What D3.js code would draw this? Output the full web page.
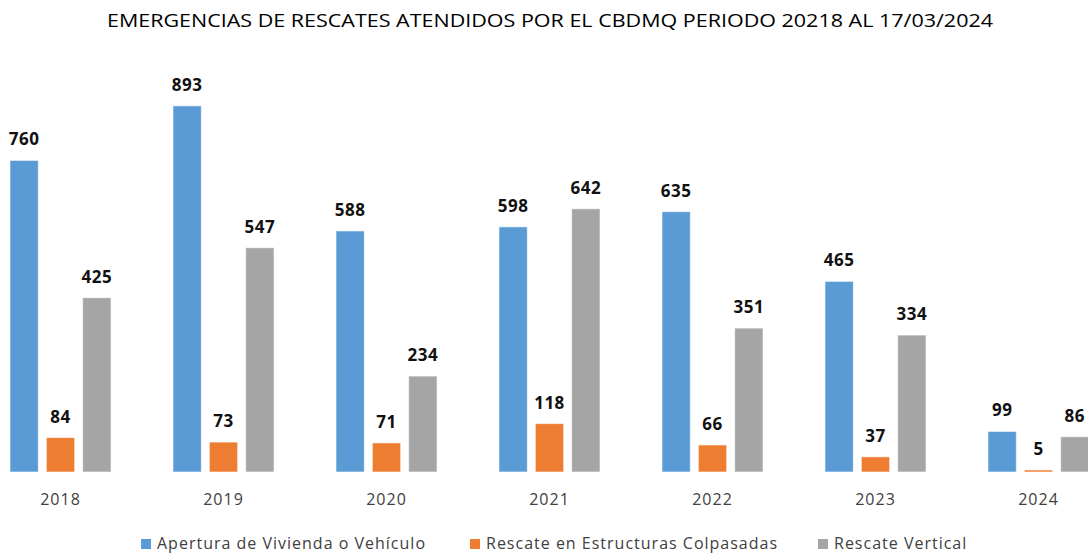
<!DOCTYPE html>
<html>
<head>
<meta charset="utf-8">
<script src="https://cdn.jsdelivr.net/npm/d3@7"></script>
<style>
  body { margin: 0; background: #fff; }
  svg { display: block; font-family: "Open Sans", sans-serif; }
</style>
</head>
<body>
<div id="chart"></div>
<script>
var years = ["2018", "2019", "2020", "2021", "2022", "2023", "2024"];
var series = ["Apertura de Vivienda o Vehículo", "Rescate en Estructuras Colpasadas", "Rescate Vertical"];
var apertura = [760, 893, 588, 598, 635, 465, 99];
var colapsadas = [84, 73, 71, 118, 66, 37, 5];
var vertical = [425, 547, 234, 642, 351, 334, 86];
var colors = ["#5b9bd5", "#ed7d31", "#a5a5a5"];

var width = 1088, height = 556;

var rows = years.map(function(y, i) {
  return {year: y, values: [apertura[i], colapsadas[i], vertical[i]]};
});

var svg = d3.select("#chart").append("svg")
    .attr("width", width)
    .attr("height", height);

// plot area runs past the left/right edges like the original screenshot
var x = d3.scaleBand()
    .domain(years)
    .range([-21, 1120])
    .paddingInner(0.38)
    .paddingOuter(0.19);

var x1 = d3.scaleBand()
    .domain([0, 1, 2])
    .range([0, x.bandwidth()])
    .paddingInner(0.22)
    .paddingOuter(0);

var y = d3.scaleLinear()
    .domain([0, 1000])
    .range([472, 62]);

svg.append("text")
    .attr("x", 550)
    .attr("y", 27)
    .attr("text-anchor", "middle")
    .attr("textLength", 886)
    .attr("lengthAdjust", "spacingAndGlyphs")
    .style("font-size", "19px")
    .style("fill", "#000")
    .text("EMERGENCIAS DE RESCATES ATENDIDOS POR EL CBDMQ PERIODO 20218 AL 17/03/2024");

var groups = svg.append("g").selectAll("g")
    .data(rows)
    .enter().append("g")
    .attr("transform", function(d) { return "translate(" + x(d.year) + ",0)"; });

groups.selectAll("rect")
    .data(function(d) { return d.values; })
    .enter().append("rect")
    .attr("x", function(d, i) { return x1(i); })
    .attr("y", function(d) { return y(d); })
    .attr("width", x1.bandwidth())
    .attr("height", function(d) { return y(0) - y(d); })
    .style("fill", function(d, i) { return colors[i]; })
    .style("stroke", "#ffffff")
    .style("stroke-opacity", 0.6)
    .style("stroke-width", 1);

groups.selectAll("text.val")
    .data(function(d) { return d.values; })
    .enter().append("text")
    .attr("class", "val")
    .attr("x", function(d, i) { return x1(i) + x1.bandwidth() / 2; })
    .attr("y", function(d) { return y(d) - 15; })
    .attr("text-anchor", "middle")
    .style("font-size", "17px")
    .style("font-weight", "bold")
    .style("letter-spacing", "0.5px")
    .style("fill", "#111")
    .text(function(d) { return d; });

var xAxis = svg.append("g")
    .attr("transform", "translate(0," + y(0) + ")")
    .call(d3.axisBottom(x).tickSize(0).tickPadding(22));
xAxis.select(".domain").remove();
xAxis.selectAll("text")
    .style("font-family", "Open Sans, sans-serif")
    .style("font-size", "16px")
    .style("letter-spacing", "1px")
    .style("fill", "#404040");

// legend
var legendX = [141, 470, 818];
var legend = svg.append("g").selectAll("g")
    .data(series)
    .enter().append("g")
    .attr("transform", function(d, i) { return "translate(" + legendX[i] + ",539)"; });
legend.append("rect")
    .attr("width", 10)
    .attr("height", 10)
    .style("fill", function(d, i) { return colors[i]; });
legend.append("text")
    .attr("x", 16)
    .attr("y", 10)
    .style("font-size", "16px")
    .style("letter-spacing", "1px")
    .style("fill", "#404040")
    .text(function(d) { return d; });
</script>
</body>
</html>
